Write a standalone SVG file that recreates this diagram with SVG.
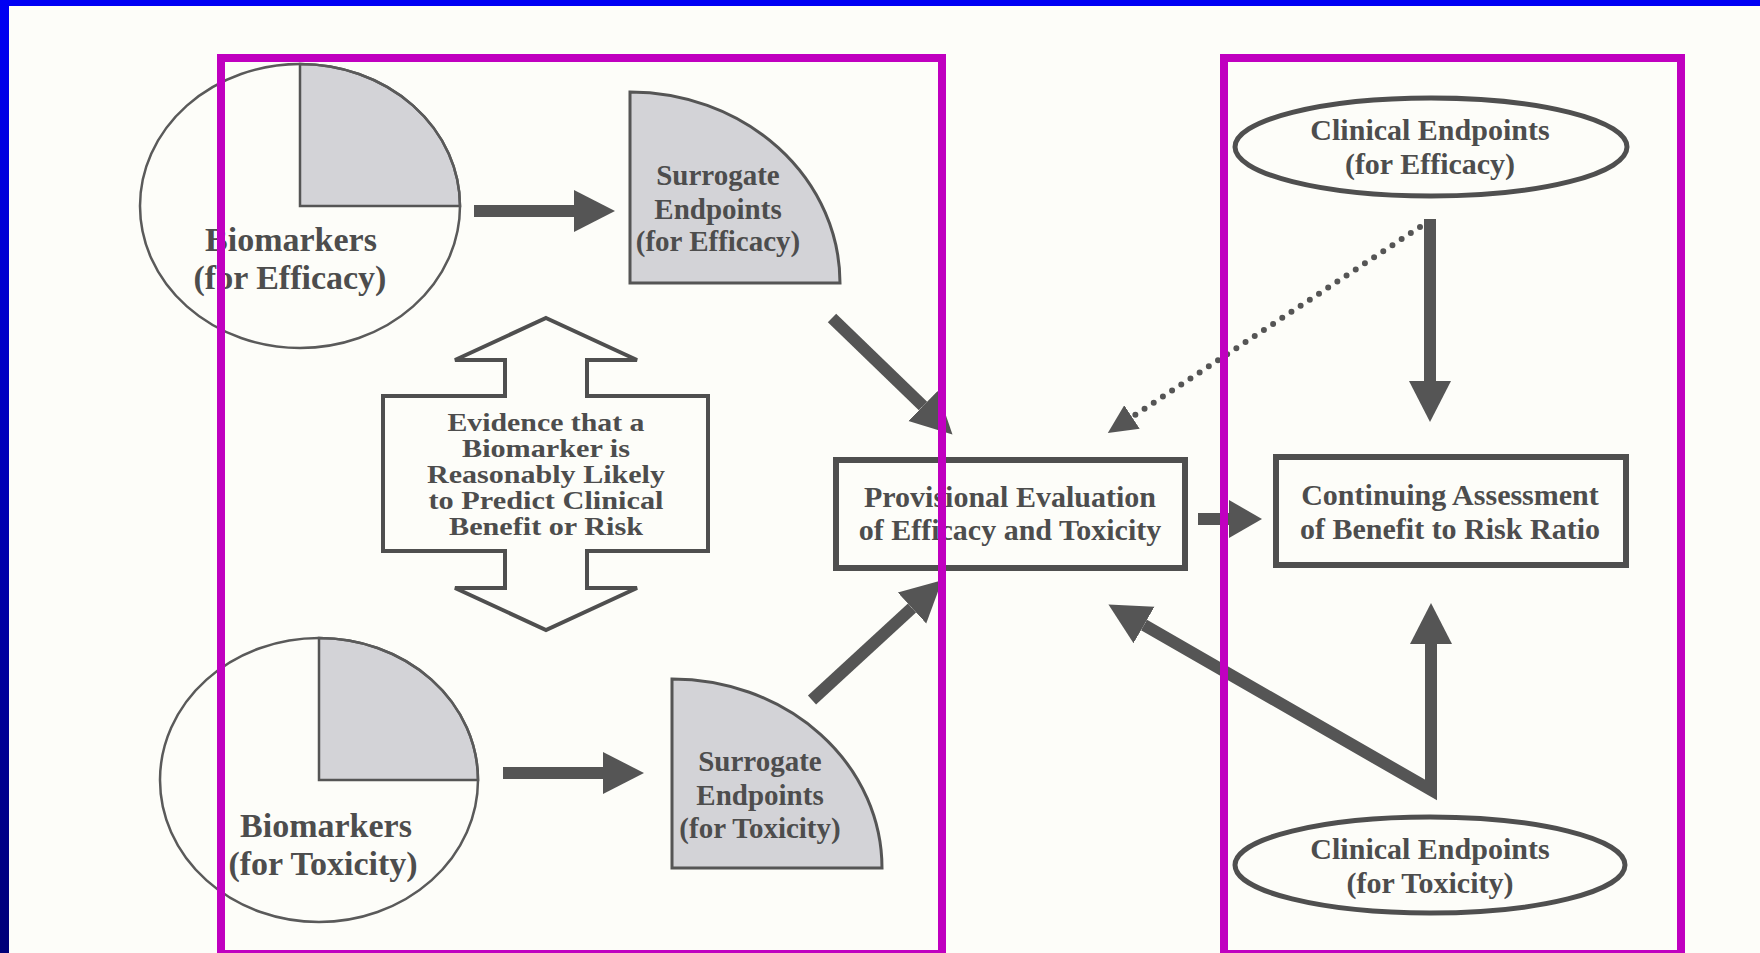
<svg xmlns="http://www.w3.org/2000/svg" width="1760" height="953" viewBox="0 0 1760 953">
<style>
.bg{fill:#fdfdf9}
.t{font-family:"Liberation Serif","Times New Roman",serif;font-weight:bold;fill:#4d4d4d;text-anchor:middle}
.thin{fill:none;stroke:#5a5a5a;stroke-width:2.5}
.shade{fill:#d3d3d7;stroke:#555;stroke-width:3}
.box{fill:none;stroke:#4f4f4f;stroke-width:6}
.oval{fill:none;stroke:#4f4f4f;stroke-width:5}
.dbl{fill:none;stroke:#4f4f4f;stroke-width:4;stroke-linejoin:miter}
.arr{fill:none;stroke:#555;stroke-width:12}
.dot{fill:none;stroke:#555;stroke-width:6;stroke-linecap:round;stroke-dasharray:0 11}
.frame{fill:none;stroke:#c000c0;stroke-width:8}
</style>
<defs>
<linearGradient id="lg" x1="0" y1="0" x2="0" y2="1">
<stop offset="0" stop-color="#0000f4"/>
<stop offset="1" stop-color="#000078"/>
</linearGradient>
<marker id="ah" markerUnits="userSpaceOnUse" viewBox="0 -22 42 44" markerWidth="42" markerHeight="44" refX="0" refY="0" orient="auto-start-reverse">
<path d="M0,-21 L41,0 L0,21 Z" fill="#555"/>
</marker>
<marker id="ahs" markerUnits="userSpaceOnUse" viewBox="0 -20 34 40" markerWidth="34" markerHeight="40" refX="0" refY="0" orient="auto">
<path d="M0,-19 L33,0 L0,19 Z" fill="#555"/>
</marker>
<marker id="ahd" markerUnits="userSpaceOnUse" viewBox="0 -16 30 32" markerWidth="30" markerHeight="32" refX="0" refY="0" orient="auto">
<path d="M0,-14 L29,0 L0,14 Z" fill="#555"/>
</marker>
</defs>
<rect class="bg" x="0" y="0" width="1760" height="953"/>
<rect x="0" y="0" width="1760" height="6" fill="#0000f4"/>
<rect x="0" y="0" width="9" height="953" fill="url(#lg)"/>

<g id="bio-efficacy">
<path class="shade" d="M300,206 L300,64 A160,142 0 0 1 460,206 Z" style="stroke-width:2.5"/>
<ellipse class="thin" cx="300" cy="206" rx="160" ry="142"/>
<text class="t" x="291" y="251" font-size="34">Biomarkers</text>
<text class="t" x="290" y="289" font-size="34">(for Efficacy)</text>
</g>

<g id="surrogate-efficacy">
<path class="shade" d="M630,283 L630,92 A210,191 0 0 1 840,283 Z"/>
<text class="t" x="718" y="185" font-size="29">Surrogate</text>
<text class="t" x="718" y="219" font-size="29">Endpoints</text>
<text class="t" x="718" y="251" font-size="29">(for Efficacy)</text>
</g>

<g id="evidence">
<path class="dbl" d="M546,318 L637,360 L587,360 L587,396 L708,396 L708,551 L587,551 L587,588 L637,588 L546,630 L455,588 L505,588 L505,551 L383,551 L383,396 L505,396 L505,360 L455,360 Z"/>
<text class="t" x="546" y="431" font-size="25" textLength="197" lengthAdjust="spacingAndGlyphs">Evidence that a</text>
<text class="t" x="546" y="457" font-size="25" textLength="168" lengthAdjust="spacingAndGlyphs">Biomarker is</text>
<text class="t" x="546" y="483" font-size="25" textLength="238" lengthAdjust="spacingAndGlyphs">Reasonably Likely</text>
<text class="t" x="546" y="509" font-size="25" textLength="235" lengthAdjust="spacingAndGlyphs">to Predict Clinical</text>
<text class="t" x="546" y="535" font-size="25" textLength="194" lengthAdjust="spacingAndGlyphs">Benefit or Risk</text>
</g>

<g id="bio-toxicity">
<path class="shade" d="M319,780 L319,638 A159,142 0 0 1 478,780 Z" style="stroke-width:2.5"/>
<ellipse class="thin" cx="319" cy="780" rx="159" ry="142"/>
<text class="t" x="326" y="837" font-size="34">Biomarkers</text>
<text class="t" x="323" y="875" font-size="34">(for Toxicity)</text>
</g>

<g id="surrogate-toxicity">
<path class="shade" d="M672,868 L672,679 A210,189 0 0 1 882,868 Z"/>
<text class="t" x="760" y="771" font-size="29">Surrogate</text>
<text class="t" x="760" y="805" font-size="29">Endpoints</text>
<text class="t" x="760" y="838" font-size="29">(for Toxicity)</text>
</g>

<g id="provisional">
<rect class="box" x="836" y="460" width="349" height="108"/>
<text class="t" x="1010" y="507" font-size="30">Provisional Evaluation</text>
<text class="t" x="1010" y="540" font-size="30">of Efficacy and Toxicity</text>
</g>

<g id="continuing">
<rect class="box" x="1276" y="457" width="350" height="108"/>
<text class="t" x="1450" y="505" font-size="30">Continuing Assessment</text>
<text class="t" x="1450" y="539" font-size="30">of Benefit to Risk Ratio</text>
</g>

<g id="clinical-efficacy">
<ellipse class="oval" cx="1431" cy="147" rx="196" ry="49"/>
<text class="t" x="1430" y="140" font-size="30">Clinical Endpoints</text>
<text class="t" x="1430" y="174" font-size="30">(for Efficacy)</text>
</g>

<g id="clinical-toxicity">
<ellipse class="oval" cx="1430" cy="865" rx="195" ry="48"/>
<text class="t" x="1430" y="859" font-size="30">Clinical Endpoints</text>
<text class="t" x="1430" y="893" font-size="30">(for Toxicity)</text>
</g>

<g id="connectors">
<line class="arr" x1="474" y1="211" x2="574" y2="211" marker-end="url(#ah)"/>
<line class="arr" x1="503" y1="773" x2="603" y2="773" marker-end="url(#ah)"/>
<line class="arr" x1="832" y1="318" x2="923" y2="406" marker-end="url(#ah)"/>
<line class="arr" x1="812" y1="700" x2="912" y2="608" marker-end="url(#ah)"/>
<line class="arr" x1="1198" y1="519" x2="1229" y2="519" marker-end="url(#ahs)"/>
<line class="arr" x1="1430" y1="219" x2="1430" y2="381" marker-end="url(#ah)"/>
<line class="dot" x1="1420" y1="227" x2="1132" y2="417" marker-end="url(#ahd)"/>
<path class="arr" d="M1144,625 L1431,790 L1431,644" stroke-linejoin="miter" marker-start="url(#ah)" marker-end="url(#ah)"/>
</g>

<g id="frames">
<rect class="frame" x="221" y="58" width="721" height="896"/>
<rect class="frame" x="1224" y="58" width="457" height="896"/>
</g>
</svg>
